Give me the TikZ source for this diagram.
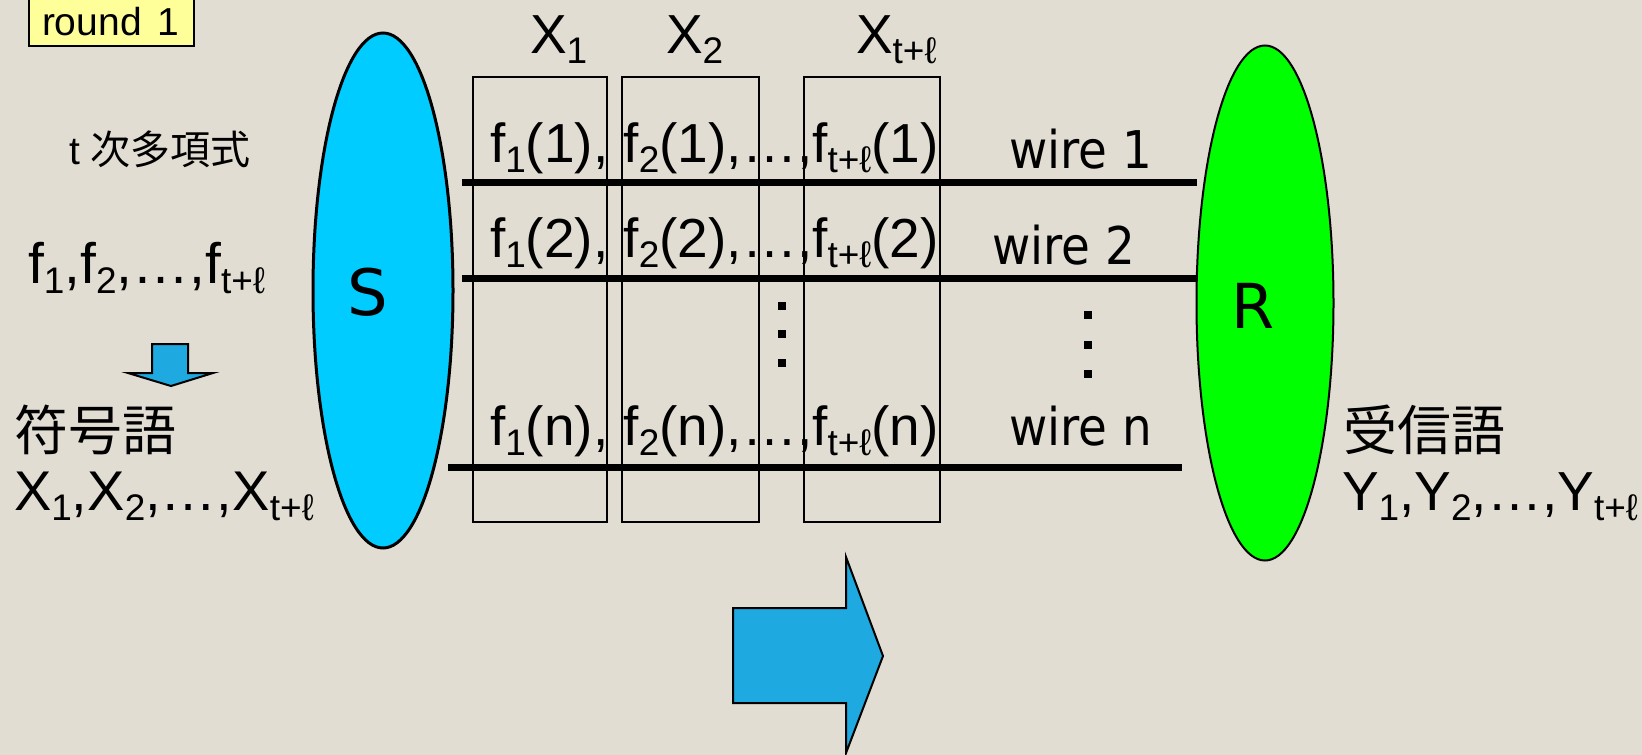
\documentclass[tikz,border=0pt]{standalone}
\usepackage{fontspec}
\setmainfont{Liberation Sans}
\newfontfamily\cjk{Noto Sans CJK JP}
\newfontfamily\dvs{DejaVu Sans}
\newfontfamily\dvsc{DejaVu Sans Condensed}
\usetikzlibrary{shapes.geometric}
\definecolor{bgc}{RGB}{226,221,210}
\definecolor{scyan}{RGB}{0,204,255}
\definecolor{rgreen}{RGB}{0,255,0}
\definecolor{arrowblue}{RGB}{30,170,225}
\definecolor{ryellow}{RGB}{255,255,153}
\newcommand\fsz[1]{\fontsize{#1}{#1}\selectfont}
\newcommand\sbs[1]{\raisebox{-10.5pt}{\fsz{37}#1}}
\newcommand\tl{t+ℓ}
\begin{document}
\begin{tikzpicture}[x=1pt,y=-1pt,
  txt/.style={inner sep=0pt, outer sep=0pt, anchor=base west},
  colbox/.style={draw=black, line width=2pt},
  wire/.style={draw=black, line width=7pt},
  vdot/.style={fill=black},
  blockarrow/.style={fill=arrowblue, draw=black, line width=2pt, line join=miter},
  party/.style={ellipse, draw=black, inner sep=0pt, minimum height=515pt}]
\useasboundingbox (0,0) rectangle (1642,755);
\fill[bgc] (0,0) rectangle (1642,755);

% round label
\node[draw=black, fill=ryellow, line width=2pt, inner sep=0pt, minimum width=165pt, minimum height=54pt, anchor=south west] (rnd) at (28,47) {};
\node[txt, font=\fsz{39}] (rndt) at (42,35) {round\hspace{16pt}1};

% parties
\node[party, fill=scyan, line width=3pt, minimum width=140pt] (S) at (383,290.5) {};
\node[txt, font=\dvs\fsz{64}] (Slab) at (347,315) {S};
\node[party, fill=rgreen, line width=2pt, minimum width=137pt] (R) at (1265,303) {};
\node[txt, font=\dvs\fsz{62}] (Rlab) at (1231,328) {R};

% column boxes
\node[colbox, inner sep=0pt, minimum width=134pt, minimum height=445pt, anchor=north west] (c1) at (472,76) {};
\node[colbox, inner sep=0pt, minimum width=137pt, minimum height=445pt, anchor=north west] (c2) at (621,76) {};
\node[colbox, inner sep=0pt, minimum width=136pt, minimum height=445pt, anchor=north west] (c3) at (803,76) {};

% column labels
\node[txt, font=\fsz{55}] (lx1) at (530,53) {X\sbs{1}};
\node[txt, font=\fsz{55}] (lx2) at (666,53) {X\sbs{2}};
\node[txt, font=\fsz{55}] (lx3) at (856,53) {X\sbs{\tl}};

% wires
\coordinate (w1a) at (462,182); \coordinate (w1b) at (1197,182);
\coordinate (w2a) at (462,278); \coordinate (w2b) at (1197,278);
\coordinate (wna) at (448,467); \coordinate (wnb) at (1182,467);
\draw[wire] (w1a) -- (w1b);
\draw[wire] (w2a) -- (w2b);
\draw[wire] (wna) -- (wnb);

% row texts
\node[txt, font=\fsz{55}] (r1) at (490,162) {f\sbs{1}(1), f\sbs{2}(1),…,f\sbs{\tl}(1)};
\node[txt, font=\fsz{55}] (r2) at (490,257) {f\sbs{1}(2), f\sbs{2}(2),…,f\sbs{\tl}(2)};
\node[txt, font=\fsz{55}] (rn) at (490,445) {f\sbs{1}(n), f\sbs{2}(n),…,f\sbs{\tl}(n)};

% wire labels
\node[txt, font=\dvsc\fsz{52}] (wl1) at (1009,168) {wire 1};
\node[txt, font=\dvsc\fsz{52}] (wl2) at (992,264) {wire 2};
\node[txt, font=\dvsc\fsz{52}] (wln) at (1009,445) {wire n};

% vertical dots
\fill[vdot] (778,302) rectangle +(8,8);
\fill[vdot] (778,330) rectangle +(8,8);
\fill[vdot] (778,359) rectangle +(8,8);
\fill[vdot] (1084,311) rectangle +(8,8);
\fill[vdot] (1084,341) rectangle +(8,8);
\fill[vdot] (1084,370) rectangle +(8,8);

% left texts
\node[txt, font=\fsz{39}] (deg) at (69,164) {t {\cjk\fsz{40}次多項式}};
\node[txt, font=\fsz{57}] (polys) at (28,283) {f\sbs{1},f\sbs{2},…,f\sbs{\tl}};
\node[txt, font=\cjk\fsz{54}] (cw) at (15,450) {符号語};
\node[txt, font=\fsz{56}] (xs) at (14,510) {X\sbs{1},X\sbs{2},…,X\sbs{\tl}};

% right texts
\node[txt, font=\cjk\fsz{54}] (rw) at (1343,450) {受信語};
\node[txt, font=\fsz{55}] (ys) at (1342,510) {Y\sbs{1},Y\sbs{2},…,Y\sbs{\tl}};

% arrows
\draw[blockarrow] (152,344) -- (188,344) -- (188,373) -- (213,373) -- (171,386) -- (128,373) -- (152,373) -- cycle;
\draw[blockarrow] (733,608) -- (846,608) -- (846,557) -- (883,656) -- (846,753) -- (846,703) -- (733,703) -- cycle;
\end{tikzpicture}
\end{document}
